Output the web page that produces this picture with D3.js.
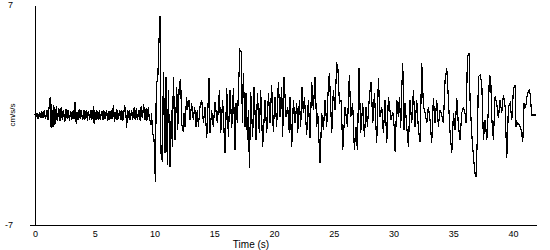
<!DOCTYPE html>
<html>
<head>
<meta charset="utf-8">
<script src="https://cdn.jsdelivr.net/npm/d3@7"></script>
<style>
  html, body { margin: 0; padding: 0; background: #fff; }
  svg { display: block; }
  text { font-family: "Liberation Sans", Arial, sans-serif; fill: #000; }
</style>
</head>
<body>
<svg id="chart" width="550" height="250"></svg>
<script>
// ---- data ----
const xTickValues = [0, 5, 10, 15, 20, 25, 30, 35, 40];
const yTickValues = [-7, 7];
const yTickLabels = ["-7", "7"];
const xLabel = "Time (s)";
const yLabel = "cm/s/s";
const timeDomain = [0, 42];
const accelDomain = [-7, 7];

// [time (s), acceleration (cm/s/s)]
const preEvent = [
  [0.0,0.05],[0.05,-0.2],[0.1,0.15],[0.15,-0.1],[0.2,0.1],[0.25,-0.25],[0.3,0.05],[0.35,-0.15],[0.4,0.2],[0.45,-0.1],[0.5,-0.2],[0.55,0.2],[0.6,0.15],[0.65,-0.2],[0.7,-0.05],[0.75,0.2],[0.8,0.25],[0.85,-0.15],[0.9,-0.25],[0.95,0.15],
  [1.0,0.3],[1.05,-0.2],[1.1,-0.3],[1.15,0.3],[1.2,0.6],[1.28,1.15],[1.35,-0.8],[1.4,0.7],[1.45,-0.6],[1.5,-0.75],[1.55,0.55],[1.6,0.5],[1.65,-0.6],[1.7,-0.5],[1.75,0.3],[1.8,0.6],
  [1.85,-0.3],[1.9,-0.4],[1.95,0.4],[2.0,0.35],[2.05,-0.2],[2.1,-0.35],[2.15,0.2],[2.2,0.5],[2.25,-0.1],[2.3,-0.3],[2.35,0.25],[2.4,0.3],[2.45,-0.3],[2.5,-0.45],[2.55,0.2],[2.6,0.4],[2.65,-0.1],[2.7,-0.25],[2.75,0.3],[2.8,0.2],
  [2.85,-0.2],[2.9,-0.35],[2.95,0.15],[3.0,0.25],[3.05,-0.3],[3.1,-0.2],[3.15,0.15],[3.2,0.3],[3.25,-0.25],[3.3,-0.15],[3.35,0.85],[3.45,-0.55],[3.5,0.2],[3.55,-0.1],[3.6,-0.3],[3.65,0.2],[3.7,0.35],
  [3.75,-0.1],[3.8,-0.25],[3.85,0.3],[3.9,0.2],[3.95,-0.2],[4.0,-0.3],[4.05,0.1],[4.1,0.3],[4.15,-0.3],[4.2,-0.2],[4.25,0.2],[4.3,0.25],[4.35,-0.15],[4.4,-0.35],[4.45,0.25],[4.5,0.2],[4.55,-0.3],[4.6,-0.15],[4.65,0.15],[4.7,0.3],
  [4.75,-0.3],[4.8,-0.2],[4.85,0.25],[4.9,0.6],[4.95,-0.6],[5.0,0.3],[5.05,-0.15],[5.1,-0.3],[5.15,0.25],[5.2,0.2],[5.25,-0.2],[5.3,-0.25],[5.35,0.15],[5.4,0.3],[5.45,-0.3],[5.5,-0.2],[5.55,0.2],[5.6,0.25],
  [5.65,-0.15],[5.7,-0.3],[5.75,0.25],[5.8,0.2],[5.85,-0.25],[5.9,-0.15],[5.95,0.2],[6.0,0.3],[6.05,-0.2],[6.1,-0.35],[6.15,0.1],[6.2,0.25],[6.25,-0.3],[6.3,-0.2],[6.35,0.2],[6.4,0.3],[6.45,-0.25],[6.5,-0.1],[6.55,0.65],
  [6.65,-0.45],[6.7,0.2],[6.75,-0.1],[6.8,-0.3],[6.85,0.3],[6.9,0.25],[6.95,-0.25],[7.0,-0.2],[7.05,0.2],[7.1,0.3],[7.15,-0.2],[7.2,-0.3],[7.25,0.25],[7.3,0.2],[7.35,-0.3],[7.4,-0.25],[7.45,0.3],[7.5,0.6],
  [7.6,0.1],[7.67,-0.8],[7.75,0.3],[7.8,-0.2],[7.85,0.2],[7.9,0.25],[7.95,-0.3],[8.0,-0.3],[8.05,0.25],[8.1,0.3],[8.15,-0.25],[8.2,-0.2],[8.25,0.3],[8.3,0.5],[8.35,-0.2],[8.4,-0.3],[8.45,0.3],
  [8.5,0.45],[8.55,-0.3],[8.6,-0.25],[8.65,0.2],[8.7,0.3],[8.75,-0.25],[8.8,-0.35],[8.85,0.3],[8.9,0.6],[8.95,-0.1],[9.0,-0.2],[9.05,0.4],[9.1,0.7],[9.15,-0.1],[9.2,-0.3],[9.25,0.3],[9.3,0.35],[9.35,-0.3],[9.4,-0.25],
  [9.45,0.3],[9.5,0.5],[9.55,-0.2],[9.6,-0.3],[9.7,-0.65],[9.75,0.1],[9.85,-1.17],[9.96,-1.59]
];

const strongMotion = [
  [10.07,-4.25],[10.15,2.02],[10.27,2.23],[10.35,4.25],[10.46,6.31],[10.54,-2.44],[10.66,-2.97],[10.74,2.76],
  [10.88,-2.44],[10.96,2.44],[11.07,-3.18],[11.16,1.59],[11.30,-3.29],[11.41,0.32],[11.49,-2.02],[11.58,2.44],
  [11.72,-1.59],[11.86,1.80],[11.94,-0.96],[12.08,2.12],[12.19,2.23],[12.27,-0.53],[12.41,-1.06],[12.47,0.11],
  [12.55,-0.74],[12.69,1.17],[12.75,0.32],[12.89,0.96],[12.97,-0.32],[13.11,0.74],[13.25,-0.32],[13.36,0.53],
  [13.47,-0.74],[13.58,0.32],[13.67,-0.74],[13.81,0.53],[13.95,0.96],[14.09,-0.53],[14.23,0.53],[14.37,-1.49],
  [14.56,2.34],[14.64,-1.17],[14.78,0.32],[14.92,-0.74],[15.06,0.85],[15.26,-0.53],[15.43,1.59],[15.54,-1.17],
  [15.70,0.96],[15.90,-2.44],[16.04,1.70],[16.18,-1.38],[16.32,1.59],[16.46,-0.85],[16.60,1.70],[16.74,-2.23],
  [16.82,0.74],[16.93,-0.53],[17.02,1.59],[17.15,4.14],[17.27,4.03],[17.35,-0.53],[17.43,2.65],[17.57,-0.74],
  [17.66,1.38],[17.77,-1.59],[17.85,0.32],[17.94,-3.40],[18.05,1.49],[18.21,-1.38],[18.33,1.80],[18.49,-1.59],
  [18.61,1.38],[18.77,-1.17],[18.88,1.59],[19.05,-2.02],[19.25,0.96],[19.39,-1.17],[19.53,1.38],[19.67,-0.53],
  [19.80,1.91],[19.94,-1.06],[20.08,1.17],[20.22,-0.74],[20.36,2.12],[20.50,-0.11],[20.64,1.80],[20.72,-1.38],
  [20.84,2.44],[21.00,-0.11],[21.14,0.53],[21.28,-1.17],[21.33,1.17],[21.48,-2.02],[21.62,0.96],[21.76,-0.53],
  [21.90,0.74],[21.98,-1.17],[22.12,0.96],[22.23,-0.74],[22.34,1.80],[22.45,0.11],[22.54,1.17],[22.73,-1.27],
  [22.87,0.96],[23.01,-1.49],[23.15,2.12],[23.29,0.32],[23.43,2.44],[23.57,-0.74],[23.66,0.11],[23.77,-1.80],
  [23.85,-3.08],[23.99,0.11],[24.13,-0.96],[24.27,0.96],[24.41,-0.74],[24.55,2.02],[24.63,2.65],[24.83,-1.17],
  [24.96,1.59],[25.10,0.32],[25.24,3.29],[25.33,3.18],[25.47,0.74],[25.61,0.96],[25.75,-2.23],[25.94,0.53],
  [26.14,-0.74],[26.30,2.55],[26.42,-0.11],[26.58,0.74],[26.72,-2.23],[26.86,-0.74],[26.97,-2.23],[27.11,2.97],
  [27.25,-1.17],[27.42,0.74],[27.56,-1.38],[27.70,0.53],[27.81,-0.74],[27.98,1.17],[28.12,2.12],[28.26,-0.53],
  [28.40,1.38],[28.59,-1.80],[28.73,2.34],[28.87,-0.11],[29.01,0.53],[29.15,-1.17],[29.29,0.96],[29.43,-1.80],
  [29.57,1.17],[29.79,-0.32],[29.93,0.21],[30.05,-0.74],[30.13,-2.34],[30.27,0.96],[30.40,-0.11],[30.49,1.17],
  [30.60,-0.85],[30.68,1.59],[30.77,3.29],[30.88,-0.96],[30.96,0.74],[31.10,-0.74],[31.24,-2.02],[31.38,0.96],
  [31.52,-0.53],[31.66,1.59],[31.80,-0.74],[31.94,0.96],[32.08,-0.96],[32.22,-1.70],[32.36,3.29],[32.50,0.53],
  [32.64,0.11],[32.78,-0.53],[32.91,0.53],[33.05,-0.32],[33.19,-1.80],[33.33,1.06],[33.47,-0.53],[33.61,0.96],
  [33.75,-0.74],[33.89,0.32],[34.03,0.0],[34.17,-0.53],[34.31,2.23],[34.45,2.97],[34.59,0.96],[34.73,-1.17],
  [34.87,-2.44],[35.01,0.11],[35.15,-0.96],[35.29,1.06],[35.43,-0.74],[35.56,-1.59],[35.70,0.11],[35.84,0.53],
  [35.98,0.11],[36.07,-0.53],[36.18,3.72],[36.32,3.93],[36.40,0.96],[36.54,-1.17],[36.68,-2.65],[36.82,-3.72],
  [36.90,-3.93],[37.02,-1.17],[37.10,2.44],[37.24,2.55],[37.38,2.02],[37.52,-1.59],[37.66,-0.32],[37.80,-1.59],
  [37.94,0.53],[38.02,2.55],[38.13,2.34],[38.21,-0.11],[38.35,-1.59],[38.49,1.17],[38.63,0.74],[38.77,-0.21],
  [38.91,0.96],[39.05,0.11],[39.19,1.27],[39.33,0.53],[39.47,-2.76],[39.61,0.53],[39.75,0.74],[39.89,-0.32],
  [40.03,1.70],[40.17,1.91],[40.25,-0.74],[40.39,-0.53],[40.53,-0.64],[40.67,-0.96],[40.81,-1.70],[40.92,0.74],
  [41.06,0.53],[41.20,1.38],[41.34,1.59],[41.42,1.38],[41.56,0.0],[41.90,0.0]
];

// ---- drawing ----
const svg = d3.select("#chart");
const x = d3.scaleLinear().domain(timeDomain).range([35, 537]);
const y = d3.scaleLinear().domain(accelDomain).range([225, 5]);

const record = preEvent.concat(strongMotion);

// x axis
const gx = svg.append("g")
  .attr("transform", `translate(0,${y(accelDomain[0])})`)
  .call(d3.axisBottom(x).tickValues(xTickValues).tickSize(0).tickPadding(6).tickFormat(d => String(d)));
gx.select(".domain").remove();
gx.append("line")
  .attr("x1", x(timeDomain[0]) - 5).attr("x2", x(timeDomain[1]))
  .attr("y1", 0.5).attr("y2", 0.5)
  .attr("stroke", "#000").attr("stroke-width", 1);
gx.selectAll("text").attr("font-size", 9).attr("font-family", "Liberation Sans, Arial, sans-serif");

// y axis
const gy = svg.append("g")
  .attr("transform", `translate(${x(timeDomain[0])},0)`)
  .call(d3.axisLeft(y).tickValues(yTickValues).tickSize(0).tickPadding(22)
    .tickFormat((d, i) => yTickLabels[i]));
gy.select(".domain").attr("stroke", "#000").attr("shape-rendering", "crispEdges");
gy.selectAll("text").attr("font-size", 9).attr("font-family", "Liberation Sans, Arial, sans-serif");

// axis titles
svg.append("text")
  .attr("x", 251).attr("y", 248)
  .attr("text-anchor", "middle")
  .attr("font-size", 10)
  .text(xLabel);

svg.append("text")
  .attr("transform", `translate(15,${y(0)}) rotate(-90)`)
  .attr("text-anchor", "middle")
  .attr("font-size", 8)
  .text(yLabel);

// signal
const line = d3.line()
  .x(d => x(d[0]))
  .y(d => y(d[1]));

svg.append("path")
  .datum(record)
  .attr("d", line)
  .attr("fill", "none")
  .attr("stroke", "#000")
  .attr("stroke-width", 1.2)
  .attr("shape-rendering", "crispEdges");
</script>
</body>
</html>
